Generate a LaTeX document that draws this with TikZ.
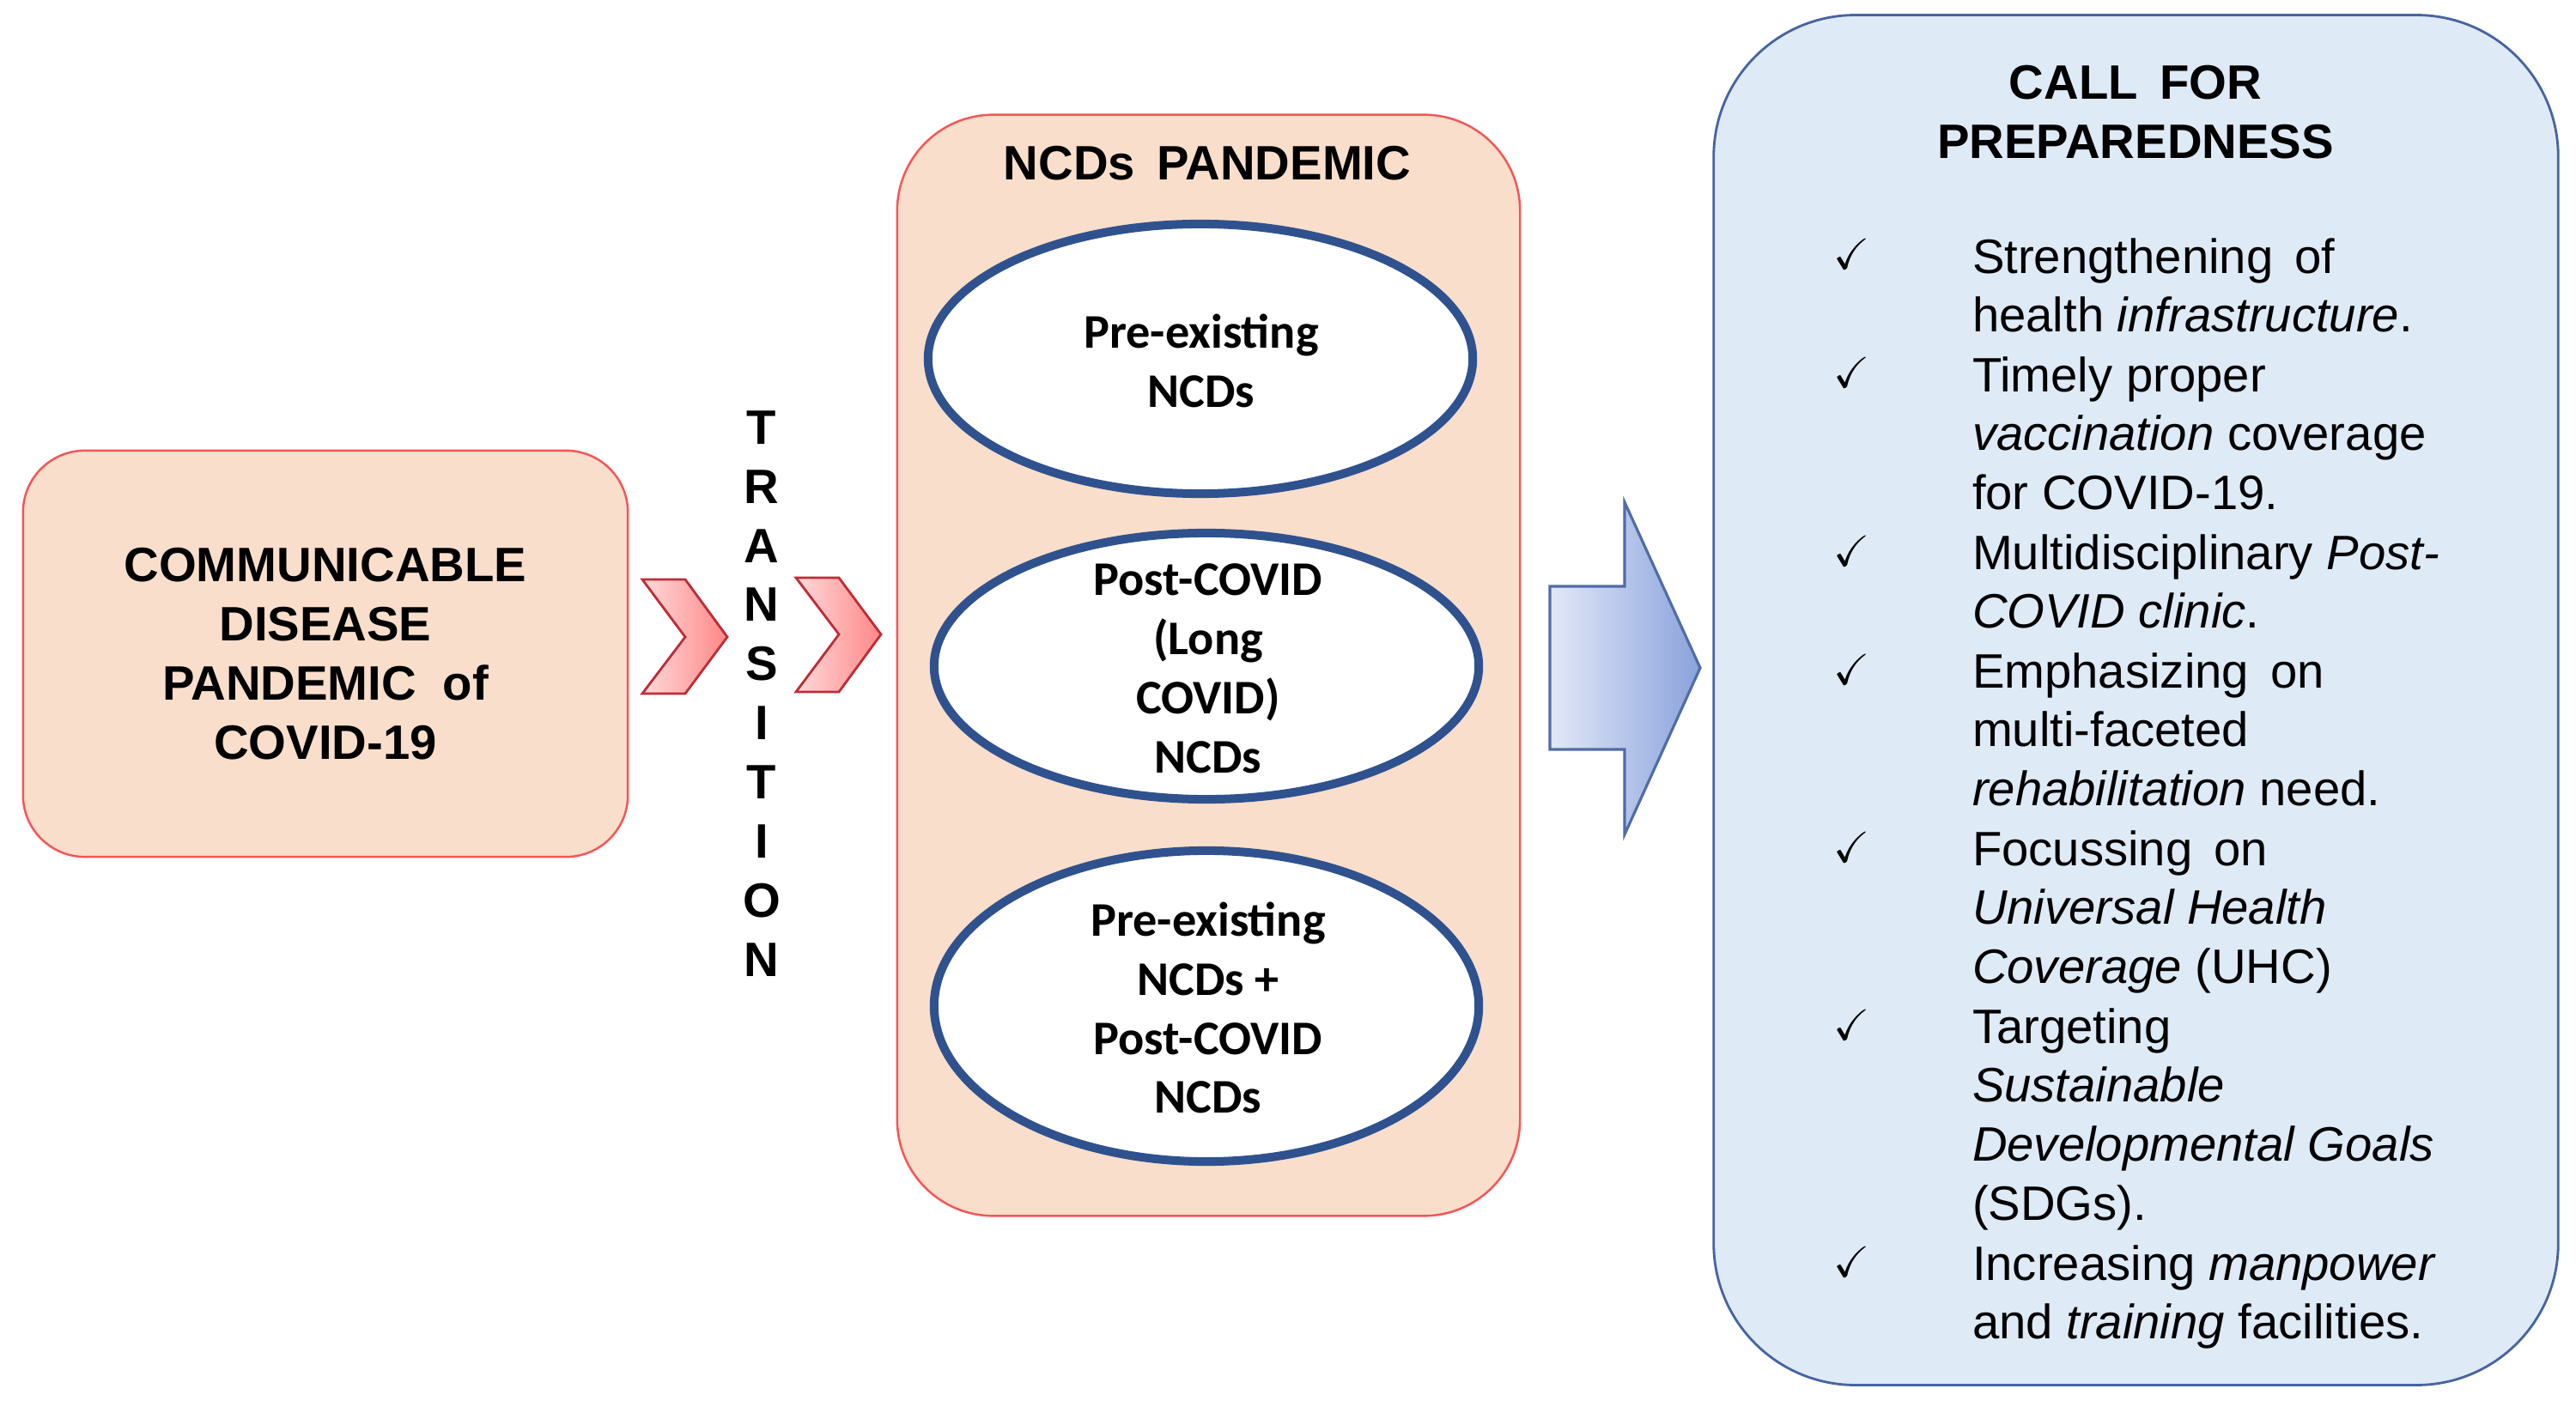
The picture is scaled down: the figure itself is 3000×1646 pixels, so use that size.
\documentclass[tikz,border=0pt]{standalone}
\usepackage{amssymb}
\usepackage{fontspec}
\setmainfont{Liberation Sans}
\newfontfamily\calibrifont{Carlito}
\usetikzlibrary{shapes.geometric}
\definecolor{peach}{RGB}{249,222,203}
\definecolor{redline}{RGB}{245,85,85}
\definecolor{ellblue}{RGB}{47,82,143}
\definecolor{chevlight}{RGB}{255,218,218}
\definecolor{chevdark}{RGB}{255,135,135}
\definecolor{chevline}{RGB}{190,45,55}
\definecolor{arrlight}{RGB}{226,232,247}
\definecolor{arrdark}{RGB}{138,162,220}
\definecolor{arrline}{RGB}{80,108,168}
\definecolor{lightblue}{RGB}{222,234,246}
\definecolor{rbline}{RGB}{70,100,160}
\newcommand\mystrut{\rule{0pt}{14pt}}
\newcommand\wsp{\hspace{0.45em}}
\begin{document}
\begin{tikzpicture}[x=0.01cm,y=-0.01cm,
  every node/.style={inner sep=0pt,outer sep=0pt},
  txt/.style={font={\fontsize{16}{19.6}\selectfont}},
  btxt/.style={font={\fontsize{16}{19.6}\selectfont\bfseries}},
  etxt/.style={font={\calibrifont\fontsize{16}{19.6}\selectfont\bfseries},align=center},
  peachbox/.style={draw=redline,fill=peach,line width=0.7pt},
  ellip/.style={ellipse,draw=ellblue,line width=2.85pt,fill=white,minimum width=6.34cm},
  chev/.style={draw=chevline,line width=0.8pt,left color=chevlight,right color=chevdark,line join=miter},
  bigarrow/.style={draw=arrline,line width=0.9pt,left color=arrlight,right color=arrdark,line join=miter},
  itemtxt/.style={txt,align=left,anchor=north west},
  chk/.style={font={\fontsize{14.4}{16}\selectfont},anchor=base west}
]
\useasboundingbox (0,0) rectangle (3000,1646);
\fill[white] (0,0) rectangle (3000,1646);

% left box
\node[peachbox,btxt,align=center,minimum width=7.04cm,minimum height=4.73cm,rounded corners=0.72cm] (cd) at (379,761.5)
  {COMMUNICABLE\\DISEASE\\PANDEMIC\hspace{0.55em}of\\COVID-19};

% chevrons
\path[chev] (748,675) -- (798,675) -- (847,742) -- (798,808) -- (748,808) -- (798,742) -- cycle;
\path[chev] (927,673) -- (977,673) -- (1026,739) -- (977,806) -- (927,806) -- (977,739) -- cycle;

% TRANSITION
\node[btxt,align=center] (tr) at (887,808) {T\\R\\A\\N\\S\\I\\T\\I\\O\\N};

% middle box
\node[peachbox,minimum width=7.25cm,minimum height=12.82cm,rounded corners=1.12cm] (ncd) at (1407.5,775) {};
\node[btxt,anchor=base] (ncdt) at (1406,210) {NCDs\wsp PANDEMIC};

\node[ellip,minimum height=3.14cm] (e1) at (1398,418) {};
\node[etxt] (e1t) at (1399,420) {Pre-existing\\NCDs};
\node[ellip,minimum height=3.10cm] (e2) at (1405,776) {};
\node[etxt] (e2t) at (1407,779) {Post-COVID\\(Long\\COVID)\\NCDs};
\node[ellip,minimum height=3.62cm] (e3) at (1405,1172) {};
\node[etxt] (e3t) at (1407,1174) {Pre-existing\\NCDs +\\Post-COVID\\NCDs};

% big arrow
\path[bigarrow] (1805,683) -- (1892,683) -- (1892,585) -- (1980,778) -- (1892,972) -- (1892,873) -- (1805,873) -- cycle;

% right box
\node[draw=rbline,fill=lightblue,line width=0.8pt,minimum width=9.83cm,minimum height=15.95cm,rounded corners=1.65cm] (rb) at (2487.5,815.5) {};
\node[btxt,align=center] (cft) at (2487,131) {CALL\wsp FOR\\PREPAREDNESS};

\node[chk] (c1) at (2135,314) {$\checkmark$};
\node[itemtxt] (t1) at (2297,268.8) {\mystrut Strengthening\wsp of\\health \textit{infrastructure}.};
\node[chk] (c2) at (2135,452) {$\checkmark$};
\node[itemtxt] (t2) at (2297,406.8) {\mystrut Timely proper\\\textit{vaccination} coverage\\for COVID-19.};
\node[chk] (c3) at (2135,659) {$\checkmark$};
\node[itemtxt] (t3) at (2297,613.8) {\mystrut Multidisciplinary \textit{Post-}\\\textit{COVID clinic}.};
\node[chk] (c4) at (2135,797) {$\checkmark$};
\node[itemtxt] (t4) at (2297,751.8) {\mystrut Emphasizing\wsp on\\multi-faceted\\\textit{rehabilitation} need.};
\node[chk] (c5) at (2135,1004) {$\checkmark$};
\node[itemtxt] (t5) at (2297,958.8) {\mystrut Focussing\wsp on\\\textit{Universal Health}\\\textit{Coverage} (UHC)};
\node[chk] (c6) at (2135,1211) {$\checkmark$};
\node[itemtxt] (t6) at (2297,1165.8) {\mystrut Targeting\\\textit{Sustainable}\\\textit{Developmental Goals}\\(SDGs).};
\node[chk] (c7) at (2135,1487) {$\checkmark$};
\node[itemtxt] (t7) at (2297,1441.8) {\mystrut Increasing \textit{manpower}\\and \textit{training} facilities.};
\end{tikzpicture}
\end{document}
